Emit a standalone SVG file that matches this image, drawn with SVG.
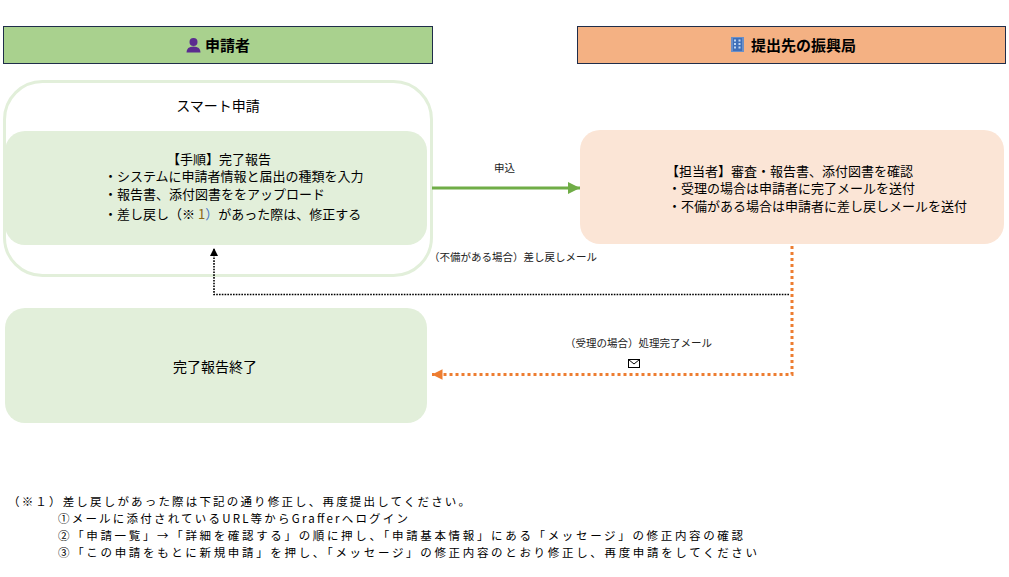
<svg xmlns="http://www.w3.org/2000/svg" width="1009" height="577" viewBox="0 0 1009 577">
<style>
text{font-family:"Noto Sans CJK JP","Noto Sans",sans-serif;fill:#000}
.hd{font-size:15px;font-weight:bold}
.bx{font-size:13px}
.sm{font-size:10.5px;fill:#222}
.fn{font-size:11.5px}
</style>
<defs>
<marker id="ag" viewBox="0 0 10 10" refX="10" refY="5" markerWidth="4" markerHeight="4" orient="auto" markerUnits="strokeWidth"><path d="M0,0L10,5L0,10z" fill="#70AD47"/></marker>
<marker id="ak" viewBox="0 0 10 10" refX="10" refY="5" markerWidth="5" markerHeight="5" orient="auto" markerUnits="strokeWidth"><path d="M0,0L10,5L0,10z" fill="#000"/></marker>
<marker id="ao" viewBox="0 0 10 10" refX="10" refY="5" markerWidth="3.5" markerHeight="3.5" orient="auto" markerUnits="strokeWidth"><path d="M0,0L10,5L0,10z" fill="#ED7D31"/></marker>
</defs>
<rect width="1009" height="577" fill="#fff"/>

<g id="header-applicant">
<rect x="3.5" y="26.5" width="429" height="37" fill="#A9D18E" stroke="#1F2D4A" stroke-width="1"/>
<g fill="#5B2C8F">
<circle cx="193.5" cy="42" r="4"/>
<path d="M186.5,52.5 Q186.5,46.5 193.5,46.5 Q200.5,46.5 200.5,52.5 Z"/>
</g>
<text class="hd" x="205" y="51">申請者</text>
</g>

<g id="header-office">
<rect x="577.5" y="26.5" width="428" height="37" fill="#F4B183" stroke="#1F2D4A" stroke-width="1"/>
<g>
<rect x="731" y="37" width="13" height="15" fill="#6A8FC8"/>
<rect x="733" y="38" width="9" height="13" fill="#3F6FB8"/>
<g fill="#BFD6F2"><rect x="734" y="39.5" width="2" height="2"/><rect x="738.5" y="39.5" width="2" height="2"/><rect x="734" y="43" width="2" height="2"/><rect x="738.5" y="43" width="2" height="2"/><rect x="734" y="46.5" width="2" height="2"/><rect x="738.5" y="46.5" width="2" height="2"/></g>
</g>
<text class="hd" x="751" y="51">提出先の振興局</text>
</g>

<g id="smart-application">
<rect x="4.5" y="81.5" width="427" height="194" rx="38" fill="#fff" stroke="#E2EFDA" stroke-width="3"/>
<text x="218" y="111" font-size="14" text-anchor="middle">スマート申請</text>
</g>

<g id="step-report">
<rect x="5" y="131" width="422" height="114" rx="20" fill="#E2EFDA"/>
<text class="bx" x="219" y="164" text-anchor="middle">【手順】完了報告</text>
<text class="bx" x="104" y="181">・システムに申請者情報と届出の種類を入力</text>
<text class="bx" x="104" y="199">・報告書、添付図書ををアップロード</text>
<text class="bx" x="104" y="219">・差し戻し（※<tspan fill="#8B6914"> 1</tspan><tspan fill="#4472C4">）</tspan>があった際は、修正する</text>
</g>

<g id="reviewer">
<rect x="580" y="130" width="424" height="114" rx="20" fill="#FBE5D6"/>
<text class="bx" x="666" y="176">【担当者】審査・報告書、添付図書を確認</text>
<text class="bx" x="668" y="193">・受理の場合は申請者に完了メールを送付</text>
<text class="bx" x="668" y="211">・不備がある場合は申請者に差し戻しメールを送付</text>
</g>

<g id="report-complete">
<rect x="5" y="308" width="422" height="115" rx="20" fill="#E2EFDA"/>
<text x="215" y="372" font-size="14" text-anchor="middle">完了報告終了</text>
</g>

<g id="connectors">
<path d="M432,188H580" fill="none" stroke="#70AD47" stroke-width="3" marker-end="url(#ag)"/>
<text class="sm" x="494" y="172">申込</text>
<path d="M789,294.5H214V248" fill="none" stroke="#000" stroke-width="1.6" stroke-dasharray="1.6,1.2" marker-end="url(#ak)"/>
<text class="sm" x="429" y="261">（不備がある場合）差し戻しメール</text>
<path d="M792,246V374.5H432" fill="none" stroke="#ED7D31" stroke-width="3" stroke-dasharray="3,3" marker-end="url(#ao)"/>
<text class="sm" x="565" y="347">（受理の場合）処理完了メール</text>
<g fill="#fff" stroke="#000" stroke-width="1">
<rect x="628.5" y="359.5" width="11" height="8"/>
<path d="M628.5,359.5L634,364L639.5,359.5" fill="none"/>
</g>
</g>

<g id="footnote">
<text class="fn" x="8" y="506" textLength="462">（※１）差し戻しがあった際は下記の通り修正し、再度提出してください。</text>
<text class="fn" x="58" y="523" textLength="350">①メールに添付されているURL等からGrafferへログイン</text>
<text class="fn" x="58" y="540" textLength="685">②「申請一覧」→「詳細を確認する」の順に押し、「申請基本情報」にある「メッセージ」の修正内容の確認</text>
<text class="fn" x="58" y="557" textLength="699">③「この申請をもとに新規申請」を押し、「メッセージ」の修正内容のとおり修正し、再度申請をしてください</text>
</g>
</svg>
